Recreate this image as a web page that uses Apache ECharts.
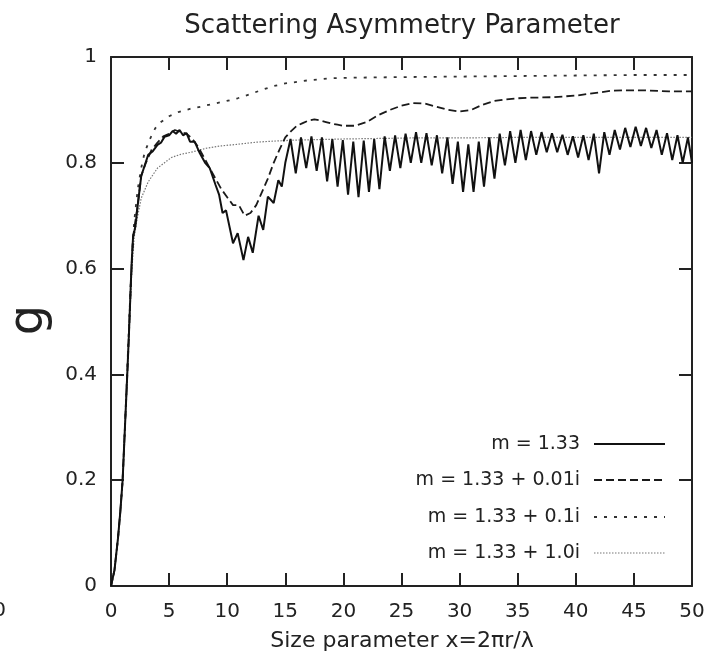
<!DOCTYPE html>
<html>
<head>
<meta charset="utf-8">
<script src="https://cdn.jsdelivr.net/npm/echarts@6/dist/echarts.min.js"></script>
<style>html,body{margin:0;padding:0;background:#fff}#c{width:709px;height:657px}</style>
</head>
<body>
<div id="c"></div>
<script>
// ---- data ([x, g] pairs) ----
const seriesNames = ['m = 1.33', 'm = 1.33 + 0.01i', 'm = 1.33 + 0.1i', 'm = 1.33 + 1.0i'];

const g_m133 = [
  [0,0],[0.3,0.03],[0.6,0.09],[0.8,0.14],[1.0,0.2],[1.2,0.3],[1.4,0.4],[1.55,0.48],[1.72,0.58],[1.8,0.62],[1.9,0.66],
  [2.1,0.68],[2.3,0.72],[2.6,0.775],[2.9,0.795],[3.2,0.815],[3.6,0.822],[4.0,0.834],[4.3,0.838],[4.6,0.849],[5.0,0.852],
  [5.3,0.86],[5.6,0.855],[5.9,0.862],[6.2,0.852],[6.5,0.856],[6.8,0.84],[7.2,0.84],[7.6,0.82],[8.1,0.80],[8.5,0.79],
  [9.0,0.758],[9.3,0.74],[9.6,0.705],[9.9,0.71],[10.5,0.648],[10.9,0.667],[11.4,0.616],[11.8,0.66],[12.2,0.63],
  [12.7,0.70],[13.1,0.673],[13.5,0.736],[14.0,0.724],[14.4,0.767],[14.7,0.755],[15.0,0.80],
  [15.45,0.845],[15.9,0.78],[16.35,0.848],[16.8,0.79],[17.25,0.85],[17.7,0.785],[18.15,0.848],[18.6,0.765],
  [19.05,0.845],[19.5,0.755],[19.95,0.843],[20.4,0.74],[20.85,0.84],[21.3,0.735],[21.75,0.842],[22.2,0.745],
  [22.65,0.845],[23.1,0.75],[23.55,0.85],[24.0,0.785],[24.45,0.852],[24.9,0.79],[25.35,0.855],[25.8,0.80],
  [26.25,0.858],[26.7,0.80],[27.15,0.856],[27.6,0.795],[28.05,0.852],[28.5,0.78],[28.95,0.848],[29.4,0.76],
  [29.85,0.84],[30.3,0.745],[30.75,0.835],[31.2,0.745],[31.65,0.84],[32.1,0.755],[32.55,0.848],[33.0,0.77],
  [33.45,0.855],[33.9,0.795],[34.35,0.86],[34.8,0.80],[35.25,0.862],[35.7,0.805],[36.15,0.86],[36.6,0.815],
  [37.05,0.858],[37.5,0.82],[37.95,0.856],[38.4,0.82],[38.85,0.853],[39.3,0.815],[39.75,0.85],[40.2,0.81],
  [40.65,0.852],[41.1,0.805],[41.55,0.855],[42.0,0.78],[42.45,0.858],[42.9,0.815],[43.35,0.862],[43.8,0.825],
  [44.25,0.866],[44.7,0.83],[45.15,0.868],[45.6,0.832],[46.05,0.866],[46.5,0.828],[46.95,0.862],[47.4,0.815],
  [47.85,0.856],[48.3,0.805],[48.75,0.852],[49.2,0.80],[49.65,0.848],[50.0,0.80]
];

const g_m133_001i = [
  [0,0],[0.3,0.03],[0.6,0.09],[0.8,0.14],[1.0,0.2],[1.2,0.3],[1.4,0.4],[1.55,0.48],[1.72,0.58],[1.9,0.66],[2.1,0.69],
  [2.3,0.72],[2.6,0.775],[3.0,0.80],[3.5,0.825],[4.0,0.838],[4.5,0.85],[5.0,0.855],[5.5,0.862],[6.0,0.858],[6.5,0.855],
  [7.0,0.845],[7.5,0.83],[8.0,0.81],[8.5,0.79],[9.0,0.77],[9.5,0.75],[10.0,0.735],[10.5,0.72],[11.0,0.72],[11.5,0.70],
  [12.0,0.705],[12.5,0.72],[13.0,0.745],[13.5,0.77],[14.0,0.80],[14.5,0.825],[15.0,0.848],[15.5,0.86],[16.0,0.87],
  [16.5,0.875],[17.0,0.88],[17.5,0.882],[18.0,0.88],[18.5,0.877],[19.0,0.874],[19.5,0.872],[20.0,0.87],[21.0,0.87],
  [22.0,0.877],[23.0,0.89],[24.0,0.90],[25.0,0.908],[26.0,0.913],[27.0,0.912],[28.0,0.906],[29.0,0.90],[30.0,0.897],
  [31.0,0.90],[32.0,0.91],[33.0,0.917],[34.0,0.92],[35.0,0.922],[36.0,0.923],[38.0,0.924],[40.0,0.927],[42.0,0.933],
  [43.0,0.936],[44.0,0.937],[46.0,0.937],[48.0,0.935],[50.0,0.935]
];

const g_m133_01i = [
  [0,0],[0.3,0.03],[0.6,0.09],[0.8,0.14],[1.0,0.2],[1.2,0.3],[1.4,0.41],[1.6,0.52],[1.8,0.62],[2.0,0.69],[2.3,0.75],
  [2.6,0.79],[2.9,0.82],[3.4,0.847],[3.8,0.865],[4.3,0.877],[5.0,0.888],[5.8,0.896],[6.8,0.902],[7.7,0.906],[8.7,0.911],
  [9.8,0.916],[10.9,0.922],[12.0,0.93],[13.0,0.938],[14.0,0.945],[15.0,0.95],[16.0,0.953],[17.0,0.956],[18.0,0.958],
  [19.0,0.96],[21.0,0.961],[25.0,0.962],[30.0,0.963],[35.0,0.964],[40.0,0.965],[45.0,0.966],[50.0,0.966]
];

const g_m133_10i = [
  [0,0],[0.3,0.03],[0.6,0.09],[0.8,0.14],[1.0,0.2],[1.2,0.3],[1.4,0.4],[1.6,0.5],[1.8,0.6],[2.0,0.66],[2.3,0.7],
  [2.6,0.733],[3.2,0.764],[4.0,0.79],[5.2,0.81],[6.0,0.816],[6.9,0.82],[8.3,0.828],[9.5,0.832],[10.9,0.835],
  [12.5,0.839],[14.0,0.841],[16.0,0.843],[18.0,0.844],[20.0,0.845],[23.0,0.846],[26.0,0.847],[30.0,0.847],
  [35.0,0.848],[40.0,0.848],[45.0,0.848],[50.0,0.848]
];

const xRange = [0, 50, 5];
const yRange = [0, 1, 0.2];

// ---- chart ----
const FONT = 'DejaVu Sans';
const TXT = '#222';
const chart = echarts.init(document.getElementById('c'), null, {renderer: 'canvas'});

const axisLine = {show: true, onZero: false, lineStyle: {color: '#222', width: 2}};
const tick = {show: true, inside: true, length: 13, lineStyle: {color: '#222', width: 2}};

function styleFor(i) {
  return [
    {color: '#111', width: 2, type: 'solid'},
    {color: '#1a1a1a', width: 1.8, type: [8, 4]},
    {color: '#333', width: 1.8, type: [3, 7]},
    {color: '#777', width: 1.2, type: [1.5, 1.5]}
  ][i];
}

const allData = [g_m133, g_m133_001i, g_m133_01i, g_m133_10i];
const drawOrder = [3, 2, 1, 0];

const legendY = [444, 480, 517, 553];
const legendGraphics = [];
seriesNames.forEach((n, i) => {
  const st = styleFor(i);
  legendGraphics.push({
    type: 'text', x: 580, y: legendY[i],
    style: {text: n, font: '19px "' + FONT + '"', fill: TXT, textAlign: 'right', textVerticalAlign: 'middle'}
  });
  legendGraphics.push({
    type: 'line', shape: {x1: 594, y1: legendY[i], x2: 665, y2: legendY[i]},
    style: {stroke: st.color, lineWidth: st.width, lineDash: st.type === 'solid' ? null : st.type}
  });
});

const option = {
  animation: false,
  backgroundColor: '#fff',
  grid: {left: 111, right: 17, top: 57, bottom: 71, containLabel: false},
  xAxis: [
    {type: 'value', min: xRange[0], max: xRange[1], interval: xRange[2], position: 'bottom',
     axisLine, axisTick: tick, splitLine: {show: false},
     axisLabel: {margin: 16, fontSize: 20, fontFamily: FONT, color: TXT}},
    {type: 'value', min: xRange[0], max: xRange[1], interval: xRange[2], position: 'top',
     axisLine, axisTick: tick, splitLine: {show: false}, axisLabel: {show: false}}
  ],
  yAxis: [
    {type: 'value', min: yRange[0], max: yRange[1], interval: yRange[2], position: 'left',
     axisLine, axisTick: tick, splitLine: {show: false},
     axisLabel: {margin: 14, fontSize: 20, fontFamily: FONT, color: TXT}},
    {type: 'value', min: yRange[0], max: yRange[1], interval: yRange[2], position: 'right',
     axisLine, axisTick: tick, splitLine: {show: false}, axisLabel: {show: false}}
  ],
  series: drawOrder.map(i => ({
    name: seriesNames[i], type: 'line', xAxisIndex: 0, yAxisIndex: 0,
    data: allData[i], showSymbol: false, symbol: 'none', smooth: false,
    lineStyle: styleFor(i), z: 10 - i
  })),
  graphic: [
    {type: 'text', x: 402, y: 26,
     style: {text: 'Scattering Asymmetry Parameter', font: '26px "' + FONT + '"', fill: TXT,
             textAlign: 'center', textVerticalAlign: 'middle'}},
    {type: 'text', x: 402, y: 641,
     style: {text: 'Size parameter x=2πr/λ', font: '22px "' + FONT + '"', fill: TXT,
             textAlign: 'center', textVerticalAlign: 'middle'}},
    {type: 'text', x: 30, y: 320, rotation: Math.PI / 2,
     style: {text: 'g', font: '48px "' + FONT + '"', fill: TXT,
             textAlign: 'center', textVerticalAlign: 'middle'}},
    {type: 'text', x: 6, y: 611,
     style: {text: '0', font: '20px "' + FONT + '"', fill: TXT,
             textAlign: 'right', textVerticalAlign: 'middle'}}
  ].concat(legendGraphics)
};
chart.setOption(option);
</script>
</body>
</html>
